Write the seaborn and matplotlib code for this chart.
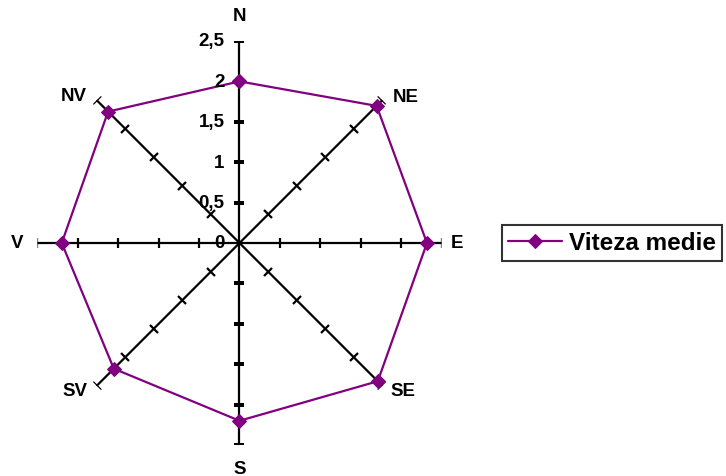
import numpy as np
import pandas as pd
import matplotlib
matplotlib.use("Agg")
import matplotlib.pyplot as plt
from matplotlib.markers import MarkerStyle
from matplotlib.transforms import Affine2D
import seaborn as sns

# -----------------------------
# DATA
# -----------------------------
directions = ["N", "NE", "E", "SE", "S", "SV", "V", "NV"]
viteza_medie = [2.0, 2.4, 2.32, 2.42, 2.2, 2.2, 2.2, 2.3]
r_ticks = [0, 0.5, 1, 1.5, 2, 2.5]
r_tick_labels = ["0", "0,5", "1", "1,5", "2", "2,5"]
series_name = "Viteza medie"

# compass angle of every direction (clockwise from N)
angles_deg = np.arange(len(directions)) * 360 / len(directions)
angles = np.deg2rad(angles_deg)

# closed polygon
df = pd.DataFrame({
    "theta": np.append(angles, 2 * np.pi),
    "value": viteza_medie + viteza_medie[:1],
})

# -----------------------------
# STYLE
# -----------------------------
sns.set_style("white")
plt.rcParams["font.family"] = ["Liberation Sans", "DejaVu Sans"]
plt.rcParams["font.weight"] = "bold"
plt.rcParams["text.color"] = "black"

purple = "#800080"

fig = plt.figure(figsize=(7.26, 4.77), dpi=100)
ax = fig.add_axes([37.5 / 726, 31 / 477, 404 / 726, 404 / 477], projection="polar")
ax.set_theta_zero_location("N")
ax.set_theta_direction(-1)
ax.set_ylim(0, 2.5)
ax.grid(False)
ax.spines["polar"].set_visible(False)
ax.set_xticks([])
ax.set_yticks([])
ax.patch.set_alpha(0)

# spokes + cross ticks
for a, d in zip(angles, angles_deg):
    ax.plot([a, a], [0, r_ticks[-1]], color="black", lw=1.6, zorder=1)
    tick = MarkerStyle("_", transform=Affine2D().rotate_deg(-d))
    ax.plot([a] * (len(r_ticks) - 1), r_ticks[1:], linestyle="none",
            marker=tick, markersize=7.5, markeredgewidth=1.6,
            color="black", zorder=1)

# series
sns.lineplot(data=df, x="theta", y="value", ax=ax, sort=False, estimator=None,
             color=purple, lw=1.6, marker="D", markersize=7,
             markeredgecolor=purple, label=series_name, zorder=3)
ax.set_xlabel("")
ax.set_ylabel("")
ax.get_legend().remove()

# value labels on the N axis
for v, lbl in zip(r_ticks, r_tick_labels):
    ax.annotate(lbl, xy=(0, v), xytext=(-15, 0), textcoords="offset pixels",
                ha="right", va="center", fontsize=13.5, fontweight="bold",
                color="black")

# direction labels
label_offsets = {
    "N": (0, 25), "NE": (23, 4), "E": (16, 0), "SE": (21, -5),
    "S": (0, -24), "SV": (-22, -5), "V": (-20, 0), "NV": (-23, 5),
}
for a, name in zip(angles, directions):
    ax.annotate(name, xy=(a, r_ticks[-1]), xytext=label_offsets[name],
                textcoords="offset pixels", ha="center", va="center",
                fontsize=13.5, fontweight="bold", color="black")

# legend
handles, labels = ax.get_legend_handles_labels()
leg = fig.legend(handles, labels, loc="center left",
                 bbox_to_anchor=(502 / 726, 1 - 244 / 477),
                 frameon=True, fancybox=False, edgecolor="black",
                 borderpad=0.25, handlelength=2.2, handletextpad=0.3,
                 borderaxespad=0, labelcolor="black",
                 prop={"size": 17.5, "weight": "bold"})
leg.get_frame().set_linewidth(1.5)

plt.savefig("out.png", dpi=100)
plt.close()
